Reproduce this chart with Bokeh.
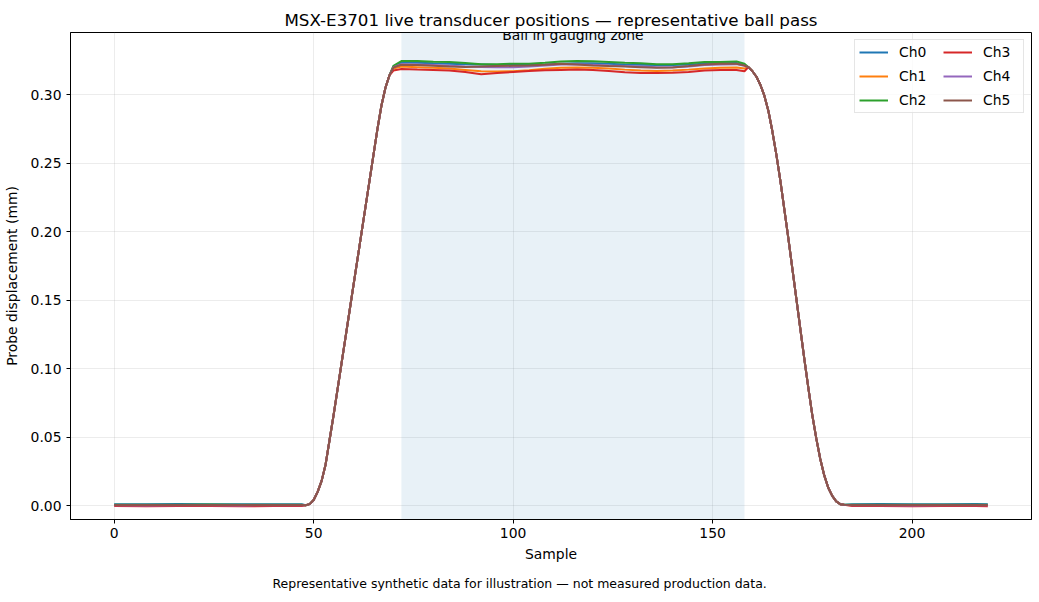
from bokeh.plotting import figure
from bokeh.models import (BoxAnnotation, Label, Legend, LegendItem, FixedTicker,
                          NumeralTickFormatter, Range1d, Title)
from bokeh.embed import file_html
from bokeh.resources import INLINE

# ---------------- data ----------------
channels = ["Ch0", "Ch1", "Ch2", "Ch3", "Ch4", "Ch5"]
colors = ["#1f77b4", "#ff7f0e", "#2ca02c", "#d62728", "#9467bd", "#8c564b"]

lead_samples = [0, 8, 16, 24, 32, 40, 47]
ch0_lead = [0.0010, 0.0010, 0.0011, 0.0010, 0.0009, 0.0010, 0.0010]
ch1_lead = [0.0003, 0.0002, 0.0003, 0.0002, 0.0003, 0.0002, 0.0003]
ch2_lead = [0.0006, 0.0005, 0.0006, 0.0007, 0.0006, 0.0005, 0.0006]
ch3_lead = [-0.0004, -0.0005, -0.0004, -0.0004, -0.0005, -0.0004, -0.0004]
ch4_lead = [0.0002, 0.0001, 0.0002, 0.0002, 0.0001, 0.0002, 0.0002]
ch5_lead = [0.0004, 0.0004, 0.0003, 0.0004, 0.0004, 0.0003, 0.0004]

rise_samples = [48, 49, 50, 51, 52, 53, 54, 55, 56, 57, 58, 59, 60, 61, 62, 63, 64, 65, 66,
                67, 68, 69]
rise_values = [0.0002, 0.001, 0.004, 0.010, 0.018, 0.030, 0.048, 0.066, 0.085, 0.104, 0.123,
               0.142, 0.161, 0.180, 0.199, 0.218, 0.237, 0.256, 0.275, 0.292, 0.305, 0.314]

plateau_samples = [70, 72, 76, 80, 84, 88, 92, 96, 100, 104, 108, 112, 116, 120, 124, 128,
                   132, 136, 140, 144, 148, 152, 156, 158]
ch0_plateau = [0.3205, 0.3235, 0.3232, 0.3228, 0.3225, 0.3222, 0.3220, 0.3215, 0.3215, 0.3218,
               0.3220, 0.3225, 0.3228, 0.3228, 0.3225, 0.3220, 0.3218, 0.3215, 0.3215, 0.3220,
               0.3225, 0.3228, 0.3230, 0.3215]
ch1_plateau = [0.3190, 0.3205, 0.3200, 0.3195, 0.3190, 0.3180, 0.3170, 0.3168, 0.3170, 0.3178,
               0.3188, 0.3195, 0.3198, 0.3195, 0.3190, 0.3182, 0.3175, 0.3172, 0.3175, 0.3182,
               0.3190, 0.3195, 0.3198, 0.3190]
ch2_plateau = [0.3210, 0.3245, 0.3245, 0.3240, 0.3238, 0.3230, 0.3222, 0.3222, 0.3225, 0.3225,
               0.3232, 0.3242, 0.3245, 0.3243, 0.3238, 0.3232, 0.3228, 0.3222, 0.3222, 0.3228,
               0.3238, 0.3238, 0.3242, 0.3225]
ch3_plateau = [0.3175, 0.3187, 0.3183, 0.3180, 0.3175, 0.3165, 0.3148, 0.3158, 0.3165, 0.3172,
               0.3178, 0.3180, 0.3182, 0.3180, 0.3172, 0.3162, 0.3158, 0.3158, 0.3160, 0.3165,
               0.3175, 0.3180, 0.3180, 0.3170]
ch4_plateau = [0.3200, 0.3222, 0.3220, 0.3215, 0.3210, 0.3205, 0.3202, 0.3200, 0.3200, 0.3205,
               0.3212, 0.3220, 0.3222, 0.3218, 0.3212, 0.3208, 0.3205, 0.3200, 0.3200, 0.3205,
               0.3215, 0.3220, 0.3222, 0.3210]
ch5_plateau = [0.3198, 0.3218, 0.3215, 0.3210, 0.3205, 0.3202, 0.3205, 0.3208, 0.3210, 0.3212,
               0.3218, 0.3225, 0.3220, 0.3212, 0.3208, 0.3205, 0.3200, 0.3195, 0.3198, 0.3208,
               0.3220, 0.3225, 0.3225, 0.3212]

fall_samples = [159, 160, 161, 162, 163, 164, 165, 166, 167, 168, 169, 170, 171, 172, 173, 174,
                175, 176, 177, 178, 179, 180, 181, 182, 183]
fall_values = [0.320, 0.317, 0.313, 0.307, 0.299, 0.288, 0.273, 0.256, 0.237, 0.216, 0.195,
               0.173, 0.151, 0.129, 0.107, 0.086, 0.066, 0.049, 0.034, 0.022, 0.013, 0.007,
               0.003, 0.001, 0.0005]

tail_samples = [185, 192, 200, 208, 216, 219]
ch0_tail = [0.0010, 0.0011, 0.0010, 0.0010, 0.0011, 0.0010]
ch1_tail = [0.0003, 0.0002, 0.0003, 0.0003, 0.0002, 0.0003]
ch2_tail = [0.0006, 0.0006, 0.0005, 0.0006, 0.0006, 0.0005]
ch3_tail = [-0.0004, -0.0004, -0.0005, -0.0004, -0.0004, -0.0005]
ch4_tail = [0.0002, 0.0002, 0.0001, 0.0002, 0.0002, 0.0002]
ch5_tail = [0.0004, 0.0003, 0.0004, 0.0004, 0.0003, 0.0004]

zone_start, zone_end = 72, 158
x_ticks = [0, 50, 100, 150, 200]
y_ticks = [0.00, 0.05, 0.10, 0.15, 0.20, 0.25, 0.30]

leads = [ch0_lead, ch1_lead, ch2_lead, ch3_lead, ch4_lead, ch5_lead]
plateaus = [ch0_plateau, ch1_plateau, ch2_plateau, ch3_plateau, ch4_plateau, ch5_plateau]
tails = [ch0_tail, ch1_tail, ch2_tail, ch3_tail, ch4_tail, ch5_tail]
samples = lead_samples + rise_samples + plateau_samples + fall_samples + tail_samples

FONT = "DejaVu Sans"
FS = "13.9px"

p = figure(width=1039, height=602,
           x_range=Range1d(-10.95, 229.95), y_range=Range1d(-0.0102, 0.3453),
           output_backend="svg", toolbar_location=None,
           min_border_left=70, min_border_right=8, min_border_top=32, min_border_bottom=83,
           title="MSX-E3701 live transducer positions \u2014 representative ball pass")

p.title.text_font = FONT
p.title.text_font_size = "16.7px"
p.title.text_font_style = "normal"
p.title.text_color = "black"
p.title.align = "center"
p.title.standoff = 5

p.outline_line_color = "black"
p.outline_line_alpha = 1.0
p.outline_line_width = 1
p.background_fill_color = "white"
p.border_fill_color = "white"

for g in (p.xgrid, p.ygrid):
    g.grid_line_color = "#b0b0b0"
    g.grid_line_alpha = 0.3
    g.grid_line_width = 0.8

p.xaxis.ticker = FixedTicker(ticks=x_ticks)
p.yaxis.ticker = FixedTicker(ticks=y_ticks)
p.yaxis.formatter = NumeralTickFormatter(format="0.00")
p.xaxis.axis_label = "Sample"
p.yaxis.axis_label = "Probe displacement (mm)"
for ax in (p.xaxis, p.yaxis):
    ax.axis_line_color = "black"
    ax.major_tick_line_color = "black"
    ax.major_tick_out = 4
    ax.major_tick_in = 0
    ax.minor_tick_line_color = None
    ax.major_label_text_font = FONT
    ax.major_label_text_font_size = FS
    ax.major_label_text_color = "black"
    ax.axis_label_text_font = FONT
    ax.axis_label_text_font_size = FS
    ax.axis_label_text_font_style = "normal"
    ax.axis_label_text_color = "black"
p.xaxis.major_label_standoff = 4
p.xaxis.axis_label_standoff = 5
p.yaxis.major_label_standoff = 5
p.yaxis.axis_label_standoff = 8

zone = BoxAnnotation(left=zone_start, right=zone_end, fill_color="#1f77b4", fill_alpha=0.1,
                     line_color=None, level="underlay")
p.add_layout(zone)

items = []
for name, col, lead, plat, tail in zip(channels, colors, leads, plateaus, tails):
    ys = lead + rise_values + plat + fall_values + tail
    r = p.line(samples, ys, line_color=col, line_width=2)
    items.append(LegendItem(label=name, renderers=[r]))

p.add_layout(Label(x=(zone_start + zone_end) / 2, y=0.3432, text="Ball in gauging zone",
                   text_align="center", text_baseline="middle", text_font=FONT,
                   text_font_size=FS, text_color="black"))

foot = Title(text="Representative synthetic data for illustration \u2014 not measured production data.",
             align="left", offset=202, standoff=19, text_font=FONT, text_font_size="12.5px",
             text_font_style="normal", text_color="black")
p.add_layout(foot, "below")

legend = Legend(items=items, ncols=2, location="top_right", margin=7, padding=4,
                spacing=8, glyph_width=29, glyph_height=14, label_height=14,
                label_width=36, label_standoff=11, label_text_font=FONT,
                label_text_font_size=FS, label_text_color="black",
                border_line_color="#cccccc", border_line_width=1,
                background_fill_alpha=0.8)
p.add_layout(legend)

open("out.html", "w").write(file_html(p, INLINE))
